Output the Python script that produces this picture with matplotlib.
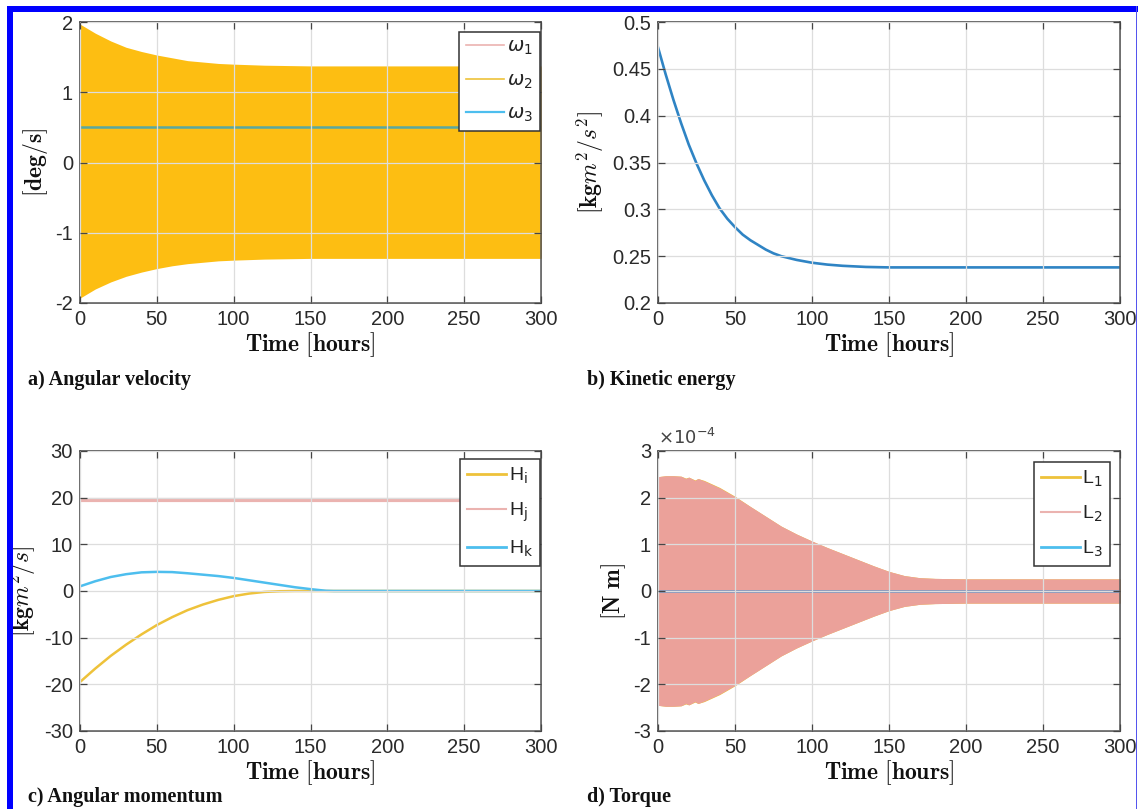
import matplotlib
matplotlib.use("Agg")
import matplotlib.pyplot as plt
from matplotlib.lines import Line2D
from matplotlib.patches import Rectangle
from matplotlib.ticker import FuncFormatter

plt.rcParams['font.family'] = ['Liberation Sans', 'DejaVu Sans']
plt.rcParams['mathtext.fontset'] = 'cm'
plt.rcParams['axes.unicode_minus'] = False

# ---------------- data ----------------
# a) angular velocity envelopes [deg/s]
t_w = [0, 10, 20, 30, 40, 50, 60, 70, 80, 90, 100, 120, 150, 200, 250, 300]
w2_upper = [1.97, 1.84, 1.73, 1.64, 1.58, 1.53, 1.49, 1.45, 1.43, 1.41, 1.40, 1.385, 1.375, 1.375, 1.375, 1.375]
w2_lower = [-1.93, -1.80, -1.70, -1.62, -1.56, -1.51, -1.47, -1.44, -1.42, -1.40, -1.39, -1.375, -1.365, -1.365, -1.365, -1.365]
w1_upper = [1.95, 1.82, 1.71, 1.62, 1.56, 1.51, 1.47, 1.43, 1.41, 1.39, 1.38, 1.37, 1.36, 1.36, 1.36, 1.36]
w1_lower = [-1.91, -1.78, -1.68, -1.60, -1.54, -1.49, -1.45, -1.42, -1.40, -1.38, -1.37, -1.36, -1.35, -1.35, -1.35, -1.35]
t_w3 = [0, 300]
w3 = [0.50, 0.50]

# b) kinetic energy [kg m^2/s^2]
t_ke = [0, 5, 10, 15, 20, 25, 30, 35, 40, 45, 50, 55, 60, 65, 70, 75, 80, 85, 90, 95, 100,
        110, 120, 135, 150, 200, 250, 300]
ke = [0.473, 0.444, 0.417, 0.392, 0.369, 0.349, 0.331, 0.315, 0.301, 0.290, 0.281, 0.273, 0.267, 0.262, 0.257, 0.253,
      0.250, 0.248, 0.246, 0.2445, 0.243, 0.241, 0.2397, 0.2385, 0.238, 0.238, 0.238, 0.238]

# c) angular momentum [kg m^2/s]
t_h = [0, 10, 20, 30, 40, 50, 60, 70, 80, 90, 100, 110, 120, 130, 140, 150, 160, 165, 200, 250, 300]
H_i = [-19.5, -16.6, -13.9, -11.5, -9.3, -7.3, -5.6, -4.1, -2.9, -1.9, -1.1, -0.55, -0.2, -0.05, 0.0, 0.0, 0.0, 0.0, 0.0, 0.0, 0.0]
H_j = [19.4, 19.4, 19.4, 19.4, 19.4, 19.4, 19.4, 19.4, 19.4, 19.4, 19.4, 19.4, 19.4, 19.4, 19.4, 19.4, 19.4, 19.4, 19.4, 19.4, 19.4]
H_k = [1.0, 2.1, 3.0, 3.6, 4.0, 4.1, 4.05, 3.8, 3.5, 3.2, 2.8, 2.3, 1.8, 1.3, 0.8, 0.4, 0.05, 0.0, 0.0, 0.0, 0.0]

# d) torque envelopes [N m]
t_L = [0, 5, 10, 15, 18, 20, 24, 26, 30, 40, 50, 60, 70, 80, 90, 100, 110, 120, 130, 140, 150, 160, 170, 180, 200, 250, 300]
L2_upper = [2.45e-4, 2.47e-4, 2.47e-4, 2.46e-4, 2.41e-4, 2.44e-4, 2.37e-4, 2.41e-4, 2.36e-4, 2.21e-4, 2.02e-4, 1.81e-4, 1.60e-4, 1.39e-4, 1.22e-4,
            1.07e-4, 0.93e-4, 0.80e-4, 0.67e-4, 0.54e-4, 0.42e-4, 0.33e-4, 0.285e-4, 0.27e-4, 0.26e-4, 0.26e-4, 0.26e-4]
L2_lower = [-2.45e-4, -2.47e-4, -2.47e-4, -2.46e-4, -2.41e-4, -2.44e-4, -2.37e-4, -2.41e-4, -2.36e-4, -2.21e-4, -2.02e-4, -1.81e-4, -1.60e-4, -1.39e-4, -1.22e-4,
            -1.07e-4, -0.93e-4, -0.80e-4, -0.67e-4, -0.54e-4, -0.42e-4, -0.33e-4, -0.285e-4, -0.27e-4, -0.26e-4, -0.26e-4, -0.26e-4]
L1_upper = [2.45e-4, 2.47e-4, 2.47e-4, 2.46e-4, 2.42e-4, 2.44e-4, 2.38e-4, 2.41e-4, 2.37e-4, 2.22e-4, 2.03e-4, 1.81e-4, 1.60e-4, 1.39e-4, 1.22e-4,
            1.07e-4, 0.93e-4, 0.80e-4, 0.67e-4, 0.54e-4, 0.42e-4, 0.33e-4, 0.285e-4, 0.27e-4, 0.26e-4, 0.26e-4, 0.26e-4]
L1_lower = [-v for v in L1_upper]
t_L3 = [0, 300]
L3 = [0.0, 0.0]

# ---------------- styling ----------------
C_YEL_FILL = '#FDBE12'
C_YEL = '#EEC23A'
C_PINK = '#EBB3B0'
C_SALMON = '#EBA19A'
C_CYAN = '#4DBEEE'
C_BLUE = '#2F84C4'
C_SPINE = '#454545'
TICK_FS = 14.5
LBL_FS = 17

W, H = 1138, 809
fig = plt.figure(figsize=(W / 100, H / 100), dpi=100)


def px_axes(left, right, top, bottom):
    return fig.add_axes([left / W, 1 - bottom / H, (right - left) / W, (bottom - top) / H])


def style(ax, ylim, yticks, ylabel):
    ax.set_xlim(0, 300)
    ax.set_ylim(*ylim)
    ax.set_xticks([0, 50, 100, 150, 200, 250, 300])
    ax.set_yticks(yticks)
    ax.grid(True, color='#dddddd', linewidth=0.9)
    ax.set_axisbelow(False)
    ax.tick_params(direction='in', length=5, width=0.9, top=True, right=True,
                   labelsize=TICK_FS, colors=C_SPINE, labelcolor='#2a2a2a', pad=5)
    for s in ax.spines.values():
        s.set_color(C_SPINE)
        s.set_linewidth(1.1)
    ax.set_xlabel(r'$\mathbf{Time\ [hours]}$', fontsize=LBL_FS, labelpad=1, color='#111111')
    ax.set_ylabel(ylabel, fontsize=LBL_FS, labelpad=4, color='#111111')


def legend(ax, handles, labels, anchor):
    leg = ax.legend(handles, labels, loc='upper right', bbox_to_anchor=anchor,
                    borderaxespad=0, fancybox=False, framealpha=1, edgecolor='#333333',
                    fontsize=14, handlelength=2.0, handletextpad=0.15, labelspacing=0.75,
                    borderpad=0.35)
    leg.get_frame().set_linewidth(1.1)
    for t in leg.get_texts():
        t.set_math_fontfamily('dejavusans')
        t.set_color('#222222')
    return leg


# a) angular velocity
axa = px_axes(80, 541, 22, 303)
axa.fill_between(t_w, w1_lower, w1_upper, color=C_PINK, linewidth=0)
axa.fill_between(t_w, w2_lower, w2_upper, color=C_YEL_FILL, linewidth=0)
axa.plot(t_w3, w3, color='#5aa8a0', linewidth=1.8)
style(axa, (-2, 2), [-2, -1, 0, 1, 2], r'$[\mathbf{deg/s}]$')
legend(axa,
       [Line2D([], [], color=C_PINK, lw=1.2), Line2D([], [], color=C_YEL, lw=1.2), Line2D([], [], color=C_CYAN, lw=1.6)],
       [r'$\omega_1$', r'$\omega_2$', r'$\omega_3$'], (0.998, 0.966))

# b) kinetic energy
axb = px_axes(658, 1120, 22, 303)
axb.plot(t_ke, ke, color=C_BLUE, linewidth=1.9)
style(axb, (0.2, 0.5), [0.2, 0.25, 0.3, 0.35, 0.4, 0.45, 0.5], r'$[\mathbf{kg}m^2/s^2]$')
axb.set_yticklabels(['0.2', '0.25', '0.3', '0.35', '0.4', '0.45', '0.5'])

# c) angular momentum
axc = px_axes(80, 541, 451, 731)
axc.plot(t_h, H_j, color=C_PINK, linewidth=3)
axc.plot(t_h, H_i, color=C_YEL, linewidth=1.8)
axc.plot(t_h, H_k, color=C_CYAN, linewidth=1.8)
style(axc, (-30, 30), [-30, -20, -10, 0, 10, 20, 30], r'$[\mathbf{kg}m^2/s]$')
legend(axc,
       [Line2D([], [], color=C_YEL, lw=2), Line2D([], [], color=C_PINK, lw=1.5), Line2D([], [], color=C_CYAN, lw=2)],
       [r'H$_\mathrm{i}$', r'H$_\mathrm{j}$', r'H$_\mathrm{k}$'], (0.998, 0.971))

# d) torque
axd = px_axes(658, 1120, 451, 731)
axd.fill_between(t_L, L1_lower, L1_upper, color=C_YEL, linewidth=0)
axd.fill_between(t_L, L2_lower, L2_upper, color=C_SALMON, linewidth=0)
axd.plot(t_L3, L3, color='#7d95bf', linewidth=2)
style(axd, (-3e-4, 3e-4), [-3e-4, -2e-4, -1e-4, 0, 1e-4, 2e-4, 3e-4], r'$[\mathbf{N\ m}]$')
axd.yaxis.set_major_formatter(FuncFormatter(lambda v, p: f'{round(v / 1e-4):d}'))
axd.text(0.0, 1.012, r'$\times10^{-4}$', transform=axd.transAxes, ha='left', va='bottom',
         fontsize=13, color='#444444', math_fontfamily='dejavusans')
legend(axd,
       [Line2D([], [], color=C_YEL, lw=2), Line2D([], [], color=C_PINK, lw=1.5), Line2D([], [], color=C_CYAN, lw=2)],
       [r'L$_1$', r'L$_2$', r'L$_3$'], (0.978, 0.961))

# captions
cap = dict(fontsize=14.5, fontweight='bold', family='Liberation Serif', va='center', ha='left', color='#111111')
fig.text(28 / W, 1 - 380 / H, 'a) Angular velocity', **cap)
fig.text(587 / W, 1 - 380 / H, 'b) Kinetic energy', **cap)
fig.text(28 / W, 1 - 797 / H, 'c) Angular momentum', **cap)
fig.text(587 / W, 1 - 797 / H, 'd) Torque', **cap)

# blue frame
fig.add_artist(Rectangle((7 / W, 0), 6 / W, 1 - 6 / H, transform=fig.transFigure, color='#0000FF', lw=0))
fig.add_artist(Rectangle((7 / W, 1 - 12 / H), 1 - 7 / W, 6 / H, transform=fig.transFigure, color='#0000FF', lw=0))
fig.add_artist(Rectangle((1135.5 / W, 0), 1.5 / W, 1 - 6 / H, transform=fig.transFigure, color='#5555ee', lw=0))

fig.savefig('out.png', dpi=100)
